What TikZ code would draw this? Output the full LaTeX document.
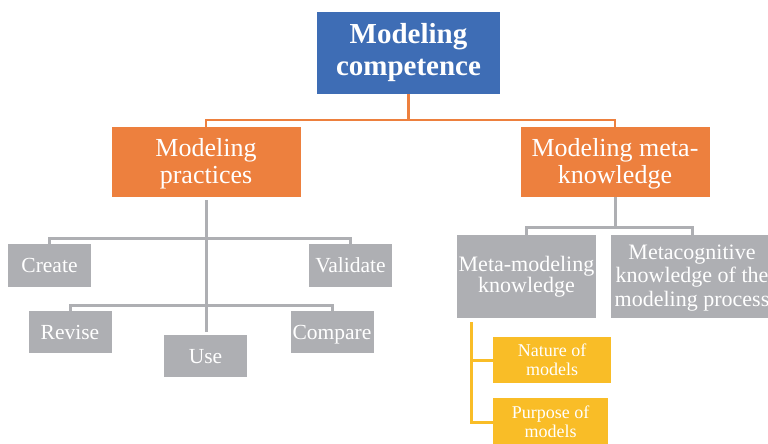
\documentclass[tikz,border=0pt]{standalone}
\usepackage{fontspec}
\setmainfont{Liberation Serif}
\definecolor{topblue}{RGB}{62,109,181}
\definecolor{orangebox}{RGB}{237,128,62}
\definecolor{greybox}{RGB}{174,175,179}
\definecolor{goldbox}{RGB}{249,189,39}
% centred lines of text, moved by the given amount while keeping their size
\newcommand{\boxlines}[2]{\raisebox{#1}[\height][\depth]{\begin{tabular}{@{}c@{}}#2\end{tabular}}}
\tikzset{
  box/.style={rectangle, inner sep=0pt, align=center, text=white},
  topbox/.style={box, fill=topblue, font=\bfseries\fontsize{29}{32}\selectfont},
  orbox/.style={box, fill=orangebox, minimum width=189pt, minimum height=70pt, font=\fontsize{26}{27.5}\selectfont},
  grbox/.style={box, fill=greybox, minimum width=83pt, minimum height=43pt, font=\fontsize{21.5}{23}\selectfont},
  oneline/.style={text height=14pt, text depth=0pt},
  gdbox/.style={box, fill=goldbox, font=\fontsize{18}{19}\selectfont},
  oline/.style={draw=orangebox, line width=2.5pt},
  gline/.style={draw=greybox, line width=3pt},
  yline/.style={draw=goldbox, line width=3pt},
}
\begin{document}
\begin{tikzpicture}[x=1pt,y=-1pt]
\clip (0,0) rectangle (768,444);

% root
\node[topbox, minimum width=183pt, minimum height=82pt] (top) at (408.5,53) {Modeling\\competence};

% second level
\node[orbox] (lo) at (206,162) {\boxlines{-2.5pt}{Modeling\\practices}};
\node[orbox] (ro) at (615,162) {\boxlines{-2.5pt}{Modeling meta-\\knowledge}};

% modeling practices
\node[grbox, oneline] (create)   at (49.5,265.5)  {Create};
\node[grbox, oneline] (validate) at (350.5,265.5) {Validate};
\node[grbox, oneline, minimum height=42pt] (revise)  at (70,332)   {Revise};
\node[grbox, oneline, minimum height=42pt] (compare) at (332,332)  {Compare};
\node[grbox, oneline, minimum height=42pt] (use)     at (205.5,356) {Use};

% meta-knowledge
\node[grbox, minimum width=139pt, minimum height=83pt, font=\fontsize{22}{21.5}\selectfont] (mm) at (526.5,276.5) {Meta-modeling\\knowledge};
\node[grbox, minimum width=162pt, minimum height=83pt, font=\fontsize{22}{23.5}\selectfont] (mc) at (692,276.5) {\boxlines{-1.5pt}{Metacognitive\\knowledge of the\\modeling process}};

% aspects of meta-modeling knowledge
\node[gdbox, minimum width=118pt, minimum height=46pt] (nature)  at (552,360)   {Nature of\\models};
\node[gdbox, minimum width=115pt, minimum height=49pt] (purpose) at (550.5,422) {Purpose of\\models};

% orange connectors
\coordinate (obus) at (408.5,120);
\draw[oline] (top.south) -- (obus);
\draw[oline] (lo.north) |- (obus) -| (ro.north);

% grey connectors under modeling practices
\coordinate (gb1) at (206,238);
\coordinate (gb2) at (206,305);
\draw[gline] ([yshift=-3pt]lo.south) -- ([yshift=3pt]lo.south |- use.north);
\draw[gline] (create.north) |- (gb1) -| (validate.north);
\draw[gline] (revise.north) |- (gb2) -| (compare.north);

% grey connectors under meta-knowledge
\coordinate (gb3) at (615,227);
\draw[gline] (ro.south) -- (gb3);
\draw[gline] (mm.north) |- (gb3) -| (mc.north);

% gold connectors
\coordinate (ytop) at (471,322);
\draw[yline] (ytop) |- (purpose.west);
\draw[yline] (ytop |- nature.west) -- (nature.west);
\end{tikzpicture}
\end{document}
